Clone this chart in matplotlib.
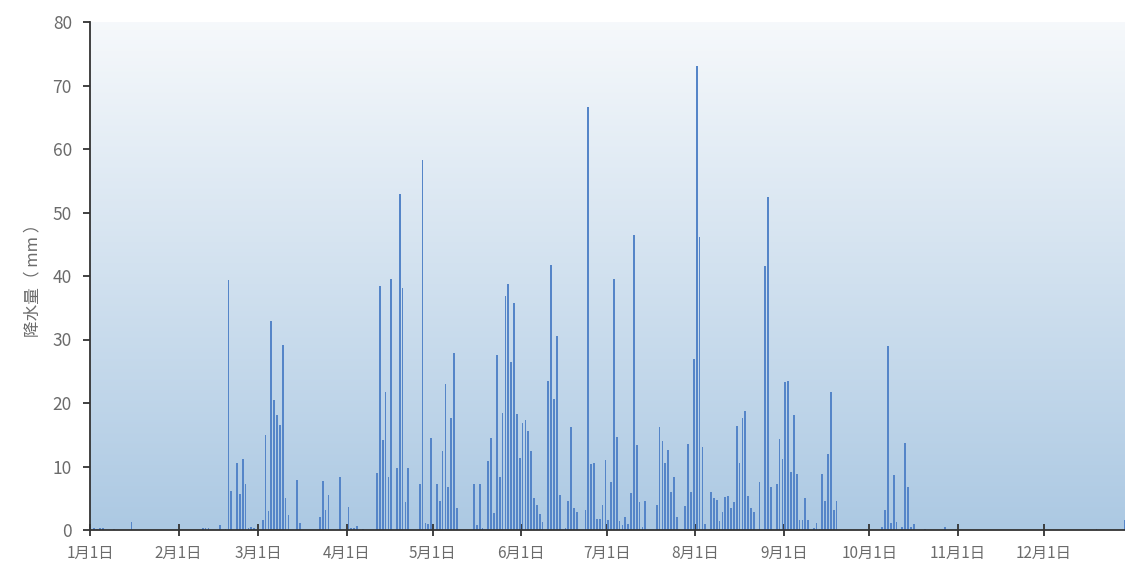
import numpy as np
import matplotlib
matplotlib.use("Agg")
import matplotlib.pyplot as plt

plt.rcParams["font.family"] = ["Noto Sans CJK SC", "DejaVu Sans"]

# daily precipitation (mm), one list per month
jan = [0, 0.3, 0.2, 0.3, 0.3, 0, 0, 0, 0.1, 0, 0, 0, 0, 0, 1.2, 0,
       0, 0, 0, 0, 0, 0, 0, 0, 0, 0, 0, 0, 0, 0, 0]
feb = [0, 0, 0, 0, 0, 0, 0, 0, 0.3, 0.3, 0.3, 0, 0, 0, 0.8, 0,
       0.2, 39.3, 6.2, 0, 10.5, 5.6, 11.2, 7.2, 0.3, 0.5, 0.3, 0]
mar = [0, 1.6, 14.9, 3.0, 32.9, 20.5, 18.1, 16.5, 29.1, 5.1, 2.3, 0, 0, 7.8, 1.1, 0,
       0, 0, 0, 0, 0, 2.0, 7.7, 3.2, 5.5, 0, 0, 0, 8.4, 0, 0]
apr = [3.6, 0.3, 0.3, 0.6, 0, 0.2, 0, 0, 0, 0, 8.9, 38.4, 14.1, 21.7, 8.4, 39.5,
       0, 9.7, 52.9, 38.1, 4.4, 9.7, 0, 0, 0, 7.3, 58.3, 1.1, 1.0, 14.5]
may = [0, 7.2, 4.5, 12.5, 23.0, 6.8, 17.7, 27.8, 3.5, 0, 0, 0, 0, 0, 7.2, 0.8,
       7.3, 0.3, 0, 10.8, 14.5, 2.7, 27.6, 8.3, 18.4, 36.9, 38.8, 26.5, 35.7, 18.2, 11.4]
jun = [16.8, 17.3, 15.6, 12.5, 5.1, 3.9, 2.5, 1.2, 0, 23.5, 41.7, 20.6, 30.5, 5.5, 0, 0.3,
       4.5, 16.2, 3.5, 2.8, 0, 0, 3.1, 66.6, 10.4, 10.5, 1.7, 1.7, 4.0, 11.1]
jul = [1.6, 7.5, 39.5, 14.7, 1.4, 0.8, 2.0, 0.9, 5.9, 46.4, 13.4, 4.4, 0.5, 4.5, 0, 0,
       0, 3.9, 16.2, 14.0, 10.6, 12.6, 6.0, 8.4, 2.0, 0, 0, 3.8, 13.6, 6.0, 26.9]
aug = [73.0, 46.1, 13.0, 0.9, 0, 6.0, 5.1, 4.8, 1.4, 2.9, 5.2, 5.4, 3.4, 4.4, 16.4, 10.6,
       17.6, 18.8, 5.4, 3.5, 2.8, 0, 7.5, 0, 41.5, 52.4, 6.7, 0, 7.3, 14.4, 11.2]
sep = [23.3, 23.4, 9.1, 18.1, 8.8, 1.6, 1.5, 5.0, 1.6, 0, 0.3, 1.1, 0.2, 8.8, 4.5, 11.9,
       21.7, 3.1, 4.6, 0, 0, 0, 0, 0, 0, 0, 0, 0, 0, 0]
oct_ = [0, 0, 0, 0, 0.4, 3.2, 29.0, 1.1, 8.7, 1.2, 0, 0.5, 13.7, 6.7, 0.5, 0.9,
        0, 0, 0, 0.1, 0, 0, 0, 0, 0, 0, 0.4, 0, 0, 0, 0]
nov = [0] * 30
dec = [0] * 18 + [0.2] + [0] * 9 + [1.6, 0, 0]

months = [jan, feb, mar, apr, may, jun, jul, aug, sep, oct_, nov, dec]
month_labels = [f"{m}月1日" for m in range(1, 13)]

values = np.concatenate([np.array(m, dtype=float) for m in months])
days = np.arange(len(values))
month_starts = np.cumsum([0] + [len(m) for m in months[:-1]])

fig = plt.figure(figsize=(11.25, 5.67), dpi=100)
ax = fig.add_axes([90 / 1125, 37 / 567, 1035 / 1125, 508 / 567])

# vertical gradient background
top = np.array([0.965, 0.975, 0.985])
bottom = np.array([0.675, 0.788, 0.890])
t = np.linspace(0, 1, 256)[:, None, None]
grad = top * (1 - t) + bottom * t
ax.imshow(grad, extent=[0, 1, 0, 1], transform=ax.transAxes,
          aspect="auto", zorder=0, interpolation="bilinear")

ax.bar(days + 0.5, values, width=0.6, color="#5585c8", zorder=2)

ax.set_xlim(0, 362.5)
ax.set_ylim(0, 80)
ax.set_yticks(np.arange(0, 81, 10))
ax.set_xticks(month_starts)
ax.set_xticklabels(month_labels)

for s in ["top", "right"]:
    ax.spines[s].set_visible(False)
for s in ["left", "bottom"]:
    ax.spines[s].set_color("#333333")
    ax.spines[s].set_linewidth(1.3)

ax.tick_params(axis="x", direction="inout", length=9, width=1.3, color="#333333",
               labelcolor="#6b6b6b", labelsize=11, pad=6)
ax.tick_params(axis="y", direction="out", length=5, width=1.3, color="#333333",
               labelcolor="#6b6b6b", labelsize=12.5, pad=8)
ax.set_ylabel("降水量（ mm ）", fontsize=12, color="#6b6b6b", labelpad=8)

fig.savefig("out.png", dpi=100)
